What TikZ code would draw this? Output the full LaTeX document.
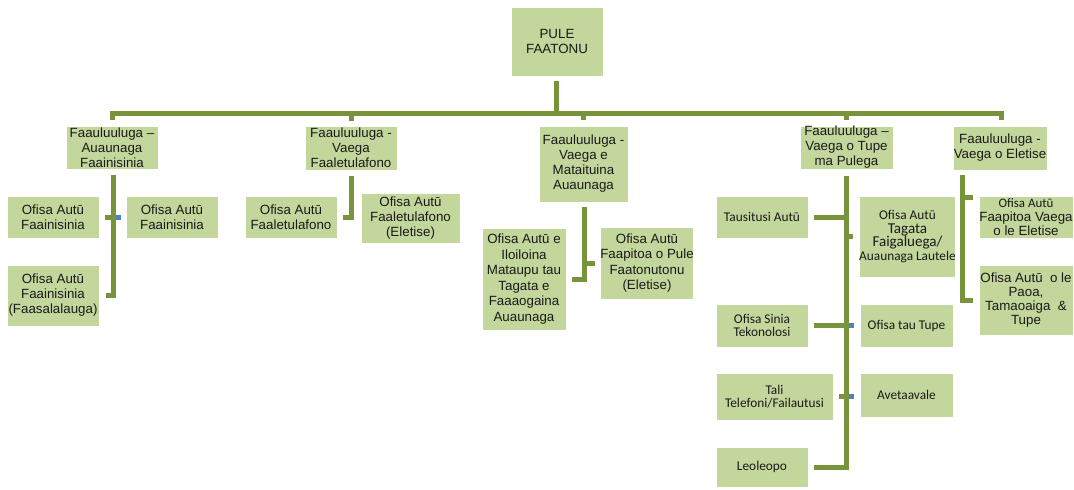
\documentclass[tikz,border=0pt]{standalone}
\usepackage{fontspec}
\setmainfont{Liberation Sans}
\newfontfamily\calfont{Carlito}
\usetikzlibrary{calc}
\definecolor{boxg}{HTML}{C3D69B}
\definecolor{lineg}{HTML}{77933C}
\definecolor{bsq}{HTML}{4F81BD}
\definecolor{txt}{HTML}{1A1A1A}
\tikzset{
  bx/.style 2 args={draw=white, line width=0.6pt, fill=boxg,
    minimum width=#1*0.75pt, minimum height=#2*0.75pt, inner sep=0pt,
    align=center, text=txt, font=\fontsize{10}{11.25}\selectfont},
  cbx/.style={font=\calfont\fontsize{10}{10.2}\selectfont},
  conn/.style={draw=lineg, line width=3.75pt},
  bluesq/.style={fill=bsq}
}
\begin{document}
\begin{tikzpicture}[x=0.75pt,y=-0.75pt]
\fill[white] (0,0) rectangle (1074,489);
\useasboundingbox (0,0) rectangle (1074,489);
% boxes
\node[bx={92}{69}] (root) at (557,41.5) {PULE\\FAATONU};
\node[bx={92}{43}] (A) at (112,147.5) {Faauluuluga –\\Auaunaga\\Faainisinia};
\node[bx={92}{44}] (B) at (351,148) {Faauluuluga -\\Vaega\\Faaletulafono};
\node[bx={89}{76}] (C) at (583.5,164) {Faauluuluga -\\Vaega e\\Mataituina\\Auaunaga};
\node[bx={93}{43}] (D) at (846.5,147.5) {Faauluuluga –\\Vaega o Tupe\\ma Pulega};
\node[bx={94}{44}] (E) at (1000,148) {Faauluuluga -\\Vaega o Eletise};
\node[bx={92}{42}] (A1) at (53,217) {Ofisa Autū\\Faainisinia};
\node[bx={92}{42}] (A2) at (172,217) {Ofisa Autū\\Faainisinia};
\node[bx={92}{61}] (A3) at (53,295.5) {Ofisa Autū\\Faainisinia\\(Faasalalauga)};
\node[bx={92}{42}] (B1) at (291,217) {Ofisa Autū\\Faaletulafono};
\node[bx={99}{50}] (B2) at (410.5,218) {Ofisa Autū\\Faaletulafono\\(Eletise)};
\node[bx={84}{102}, font=\fontsize{10}{11.7}\selectfont] (C1) at (524,279) {Ofisa Autū e\\Iloiloina\\Mataupu tau\\Tagata e\\Faaaogaina\\Auaunaga};
\node[bx={92}{72}, font=\fontsize{10}{11.5}\selectfont] (C2) at (647,263) {Ofisa Autū\\Faapitoa o Pule\\Faatonutonu\\(Eletise)};
\node[bx={92}{42}, cbx] (D1) at (762,217) {Tausitusi Autū};
\node[bx={93}{81}, cbx] (D2) at (907.5,236.5) {Ofisa Autū\\{\fontsize{11.3}{10.2}\selectfont Tagata}\\{\fontsize{11.3}{10.2}\selectfont Faigaluega/}\\Auaunaga Lautele};
\node[bx={92}{43}, cbx] (D3) at (762,325.5) {Ofisa Sinia\\Tekonolosi};
\node[bx={93}{43}, cbx] (D4) at (906.5,325.5) {Ofisa tau Tupe};
\node[bx={117}{47}, cbx] (D5) at (774.5,396.5) {Tali\\Telefoni/Failautusi};
\node[bx={93}{44}, cbx] (D6) at (906.5,395) {Avetaavale};
\node[bx={92}{40}, cbx] (D7) at (762,467) {Leoleopo};
\node[bx={94}{42}, font=\fontsize{10}{10.8}\selectfont] (E1) at (1026,217) {{\calfont\fontsize{9.7}{10.8}\selectfont Ofisa Autū}\\Faapitoa Vaega\\o le Eletise};
\node[bx={94}{70}, font=\fontsize{10}{10.5}\selectfont] (E2) at (1026,300) {Ofisa Autū\ \ o le\\Paoa,\\Tamaoaiga\ \ \&\\Tupe};
% bus
\coordinate (bus) at (556,113);
\draw[conn] ($(root.south)+(-1,5)$) -- (bus);
\draw[conn] ($(A.north)+(0,-6)$) |- (bus) -| ($(E.north)+(1,-6)$);
\draw[conn] (B.north |- bus) -- ($(B.north)+(0,-5)$);
\draw[conn] (C.north |- bus) -- ($(C.north)+(0,-6)$);
\draw[conn] (D.north |- bus) -- ($(D.north)+(0,-6)$);
% A subtree
\draw[conn] ($(A.south)+(1,6)$) |- ($(A3.east)+(7,0)$);
\draw[conn] ($(A1.east)+(6,0)$) -- ($(A.south |- A1.east)+(1,0)$);
\fill[bluesq] ($(A.south |- A1.east)+(3.5,-2.5)$) rectangle ++(5,5);
% B subtree
\draw[conn] ($(B.south)+(0,6)$) |- ($(B1.east)+(6,0)$);
% C subtree
\draw[conn] ($(C.south)+(0.5,5)$) |- ($(C1.east)+(6,0)$);
\draw[conn] ($(C.south |- C2.west)+(0.5,0)$) -- ($(C2.west)+(-5,0)$);
% D subtree
\draw[conn] ($(D.south)+(0,7)$) |- ($(D7.east)+(6,0)$);
\draw[conn] ($(D1.east)+(6,0)$) -- (D.south |- D1.east);
\draw[conn] (D.south |- D2.west) -- ($(D2.west)+(-6,0)$);
\draw[conn] ($(D3.east)+(6,0)$) -- (D.south |- D3.east);
\draw[conn] ($(D5.east)+(6,0)$) -- (D.south |- D5.east);
\fill[bluesq] ($(D.south |- D3.east)+(2.5,-2.5)$) rectangle ++(5,5);
\fill[bluesq] ($(D.south |- D5.east)+(2.5,-2.5)$) rectangle ++(5,5);
% E subtree
\draw[conn] ($(E.south)+(-38,5)$) |- ($(E2.west)+(-6,0)$);
\draw[conn] ($(E.south |- E1.north)+(-38,2)$) -- ($(E1.north west)+(-6,2)$);
\end{tikzpicture}
\end{document}
